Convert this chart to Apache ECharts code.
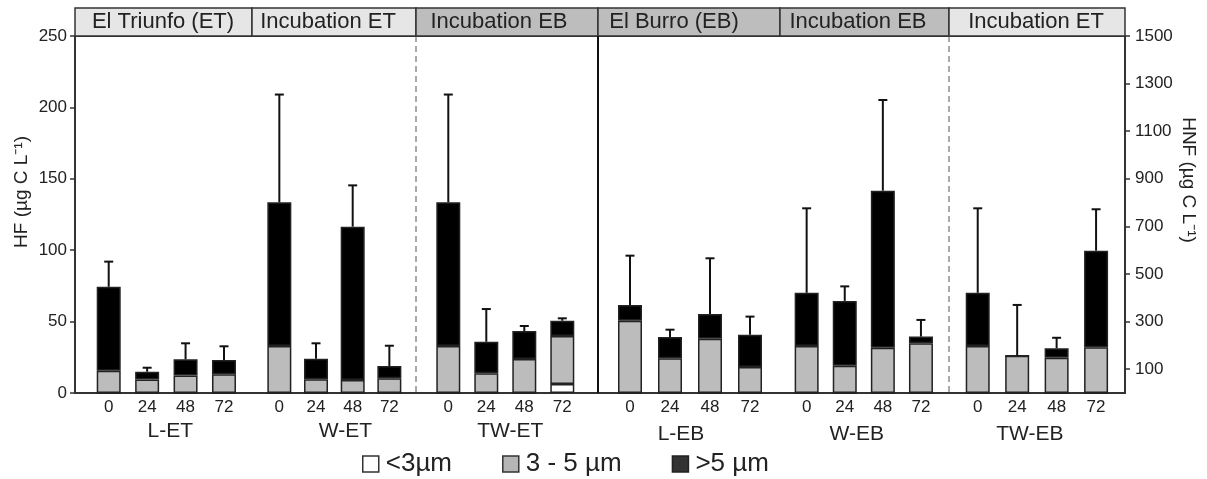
<!DOCTYPE html>
<html><head><meta charset="utf-8">
<script src="https://cdn.jsdelivr.net/npm/echarts@6/dist/echarts.min.js"></script>
<style>html,body{margin:0;padding:0;background:#fff}#c{width:1207px;height:479px}</style>
</head><body><div id="c"></div>
<script>
// ---- DATA ----
const timeLabels = ['0', '24', '48', '72'];
const groupNames = ['L-ET', 'W-ET', 'TW-ET', 'L-EB', 'W-EB', 'TW-EB'];
const headerLabels = ['El Triunfo (ET)', 'Incubation ET', 'Incubation EB', 'El Burro (EB)', 'Incubation EB', 'Incubation ET'];
const sizeClasses = ['<3µm', '3 - 5 µm', '>5 µm'];
const hfTicks = [0, 50, 100, 150, 200, 250];
const hnfTicks = [100, 300, 500, 700, 900, 1100, 1300, 1500];
// ET groups in HF units (left axis), EB groups in HNF units (right axis)
const LET_lt3 = [0, 0, 0, 0];       const LET_mid = [15.6, 9.5, 12.2, 13.1];  const LET_gt5 = [58.8, 5.4, 11.4, 10.0];   const LET_sd = [17.6, 2.8, 11.2, 9.6];
const WET_lt3 = [0, 0, 0, 0];       const WET_mid = [32.9, 9.6, 9.1, 10.3];   const WET_gt5 = [100.6, 14.4, 107.4, 8.6]; const WET_sd = [75.5, 10.8, 28.9, 14.2];
const TWET_lt3 = [0, 0, 0, 6.3];    const TWET_mid = [32.9, 13.8, 23.8, 33.6]; const TWET_gt5 = [100.6, 22.1, 19.6, 10.7]; const TWET_sd = [75.5, 22.9, 3.5, 1.7];
const LEB_lt3 = [0, 0, 0, 0];       const LEB_mid = [304, 146, 228, 109];     const LEB_gt5 = [66, 89, 104, 136];        const LEB_sd = [207, 31, 234, 76];
const WEB_lt3 = [0, 0, 0, 0];       const WEB_mid = [197, 115, 190, 209];     const WEB_gt5 = [224, 272, 660, 28];       const WEB_sd = [355, 61, 381, 70];
const TWEB_lt3 = [0, 0, 0, 0];      const TWEB_mid = [197, 157, 148, 192];    const TWEB_gt5 = [224, 0, 40, 406];        const TWEB_sd = [355, 213, 44, 174];

const groups = [
  [LET_lt3, LET_mid, LET_gt5, LET_sd],
  [WET_lt3, WET_mid, WET_gt5, WET_sd],
  [TWET_lt3, TWET_mid, TWET_gt5, TWET_sd],
  [LEB_lt3, LEB_mid, LEB_gt5, LEB_sd],
  [WEB_lt3, WEB_mid, WEB_gt5, WEB_sd],
  [TWEB_lt3, TWEB_mid, TWEB_gt5, TWEB_sd]
];

// ---- LAYOUT ----
const FONT = 'Liberation Sans, Arial, sans-serif';
const PL = 75, PR = 1125, PT = 36, PB = 393, W = 1207, H = 479;
const groupBoxes = [[89.5, 153.7], [261, 146.7], [429.3, 152], [610, 160], [787.6, 152.4], [958, 157.8]];
const nameShift = [4, 11, 5, -9, -7, -7];
const headerEdges = [PL, 252, 416, 598, 780, 949, PR];
const headerFill = ['#e6e6e6', '#e6e6e6', '#bdbdbd', '#bdbdbd', '#bdbdbd', '#e6e6e6'];
const headerCenters = [163, 328, 499, 674, 858, 1036];
const segColors = ['#ffffff', '#bcbcbc', '#000000'];

const grids = [{left: PL, right: W - PR, top: PT, bottom: H - PB, show: true, borderColor: '#333', borderWidth: 2, backgroundColor: 'transparent'}];
const xAxes = [{gridIndex: 0, type: 'value', min: 0, max: 1, show: false}];
const yAxes = [
  {gridIndex: 0, type: 'value', position: 'left', min: 0, max: 250, interval: 50,
   axisLine: {show: true, lineStyle: {color: '#333', width: 2}},
   axisTick: {show: true, length: 5, lineStyle: {color: '#333', width: 1.5}},
   axisLabel: {fontSize: 17, color: '#222', fontFamily: FONT, margin: 8},
   splitLine: {show: false}},
  {gridIndex: 0, type: 'value', position: 'right', min: 0, max: 1500,
   axisLine: {show: true, lineStyle: {color: '#333', width: 2}},
   axisTick: {show: true, length: 5, customValues: hnfTicks, lineStyle: {color: '#333', width: 1.5}},
   axisLabel: {fontSize: 17, color: '#222', fontFamily: FONT, margin: 10, customValues: hnfTicks,
     formatter: v => String(v)},
   splitLine: {show: false}}
];
const series = [];

function errRender(params, api) {
  const x = api.value(0), top = api.value(1), sd = api.value(2);
  if (!sd) return null;
  const p0 = api.coord([x, top]), p1 = api.coord([x, top + sd]);
  const cap = 4.5;
  return {type: 'group', children: [
    {type: 'line', shape: {x1: p0[0], y1: p0[1], x2: p1[0], y2: p1[1]}, style: {stroke: '#111', lineWidth: 2}},
    {type: 'line', shape: {x1: p1[0] - cap, y1: p1[1], x2: p1[0] + cap, y2: p1[1]}, style: {stroke: '#111', lineWidth: 2}}
  ]};
}

groups.forEach((g, i) => {
  const gi = i + 1;
  const isEB = i >= 3;
  grids.push({left: groupBoxes[i][0], width: groupBoxes[i][1], top: PT, bottom: H - PB});
  const sh = nameShift[i];
  xAxes.push({gridIndex: gi, type: 'category', data: timeLabels,
    axisLine: {show: false}, axisTick: {show: false},
    axisLabel: {fontSize: 17, color: '#222', fontFamily: FONT, margin: 6},
    name: groupNames[i], nameLocation: 'middle', nameGap: isEB ? 31 : 25,
    nameTextStyle: {fontSize: 21, color: '#222', fontFamily: FONT,
      padding: sh >= 0 ? [0, 0, 0, 2 * sh] : [0, -2 * sh, 0, 0]}});
  yAxes.push({gridIndex: gi, type: 'value', min: 0, max: isEB ? 1500 : 250, show: false});
  const yi = yAxes.length - 1;
  for (let s = 0; s < 3; s++) {
    series.push({type: 'bar', name: sizeClasses[s], xAxisIndex: gi, yAxisIndex: yi, stack: 'st' + i,
      barWidth: 24, data: g[s],
      itemStyle: {color: segColors[s], borderColor: '#222', borderWidth: 1.5}, z: 3});
  }
  const errData = g[3].map((sd, k) => [k, g[0][k] + g[1][k] + g[2][k], sd]);
  series.push({type: 'custom', xAxisIndex: gi, yAxisIndex: yi, renderItem: errRender,
    data: errData, encode: {x: 0, y: 1}, z: 4, silent: true});
});

// ---- Decorations: header strip, dividers, axis titles ----
const graphic = [];
for (let i = 0; i < 6; i++) {
  graphic.push({type: 'rect', shape: {x: headerEdges[i], y: 8, width: headerEdges[i + 1] - headerEdges[i], height: PT - 8},
    style: {fill: headerFill[i], stroke: '#333', lineWidth: 1.5}, z: 1});
  graphic.push({type: 'text', x: headerCenters[i], y: 22,
    style: {text: headerLabels[i], fontSize: 22, fontFamily: FONT, fill: '#222', align: 'center', verticalAlign: 'middle'}, z: 2});
}
graphic.push({type: 'line', shape: {x1: 416, y1: PT, x2: 416, y2: PB}, style: {stroke: '#555', lineWidth: 1, lineDash: [6, 4]}, z: 1});
graphic.push({type: 'line', shape: {x1: 949, y1: PT, x2: 949, y2: PB}, style: {stroke: '#555', lineWidth: 1, lineDash: [6, 4]}, z: 1});
graphic.push({type: 'line', shape: {x1: 598, y1: PT, x2: 598, y2: PB}, style: {stroke: '#111', lineWidth: 2}, z: 1});
graphic.push({type: 'text', x: 22, y: 192, rotation: Math.PI / 2,
  style: {text: 'HF (µg C L⁻¹)', fontSize: 19, fontFamily: FONT, fill: '#222', align: 'center', verticalAlign: 'middle'}});
graphic.push({type: 'text', x: 1188, y: 180, rotation: -Math.PI / 2,
  style: {text: 'HNF (µg C L⁻¹)', fontSize: 19, fontFamily: FONT, fill: '#222', align: 'center', verticalAlign: 'middle'}});

const option = {
  animation: false,
  backgroundColor: '#fff',
  grid: grids, xAxis: xAxes, yAxis: yAxes, series: series, graphic: graphic,
  legend: {left: 362, top: 451, padding: 0, itemWidth: 16, itemHeight: 16, itemGap: 50, icon: 'rect',
    textStyle: {fontSize: 26, color: '#222', fontFamily: FONT, padding: [0, 0, 0, 2]},
    data: [
      {name: sizeClasses[0], itemStyle: {color: '#fff', borderColor: '#333', borderWidth: 1.5}},
      {name: sizeClasses[1], itemStyle: {color: '#b5b5b5', borderColor: '#333', borderWidth: 1.5}},
      {name: sizeClasses[2], itemStyle: {color: '#333', borderColor: '#222', borderWidth: 1.5}}
    ]}
};
const chart = echarts.init(document.getElementById('c'), null, {renderer: 'canvas'});
chart.setOption(option);
</script></body></html>
